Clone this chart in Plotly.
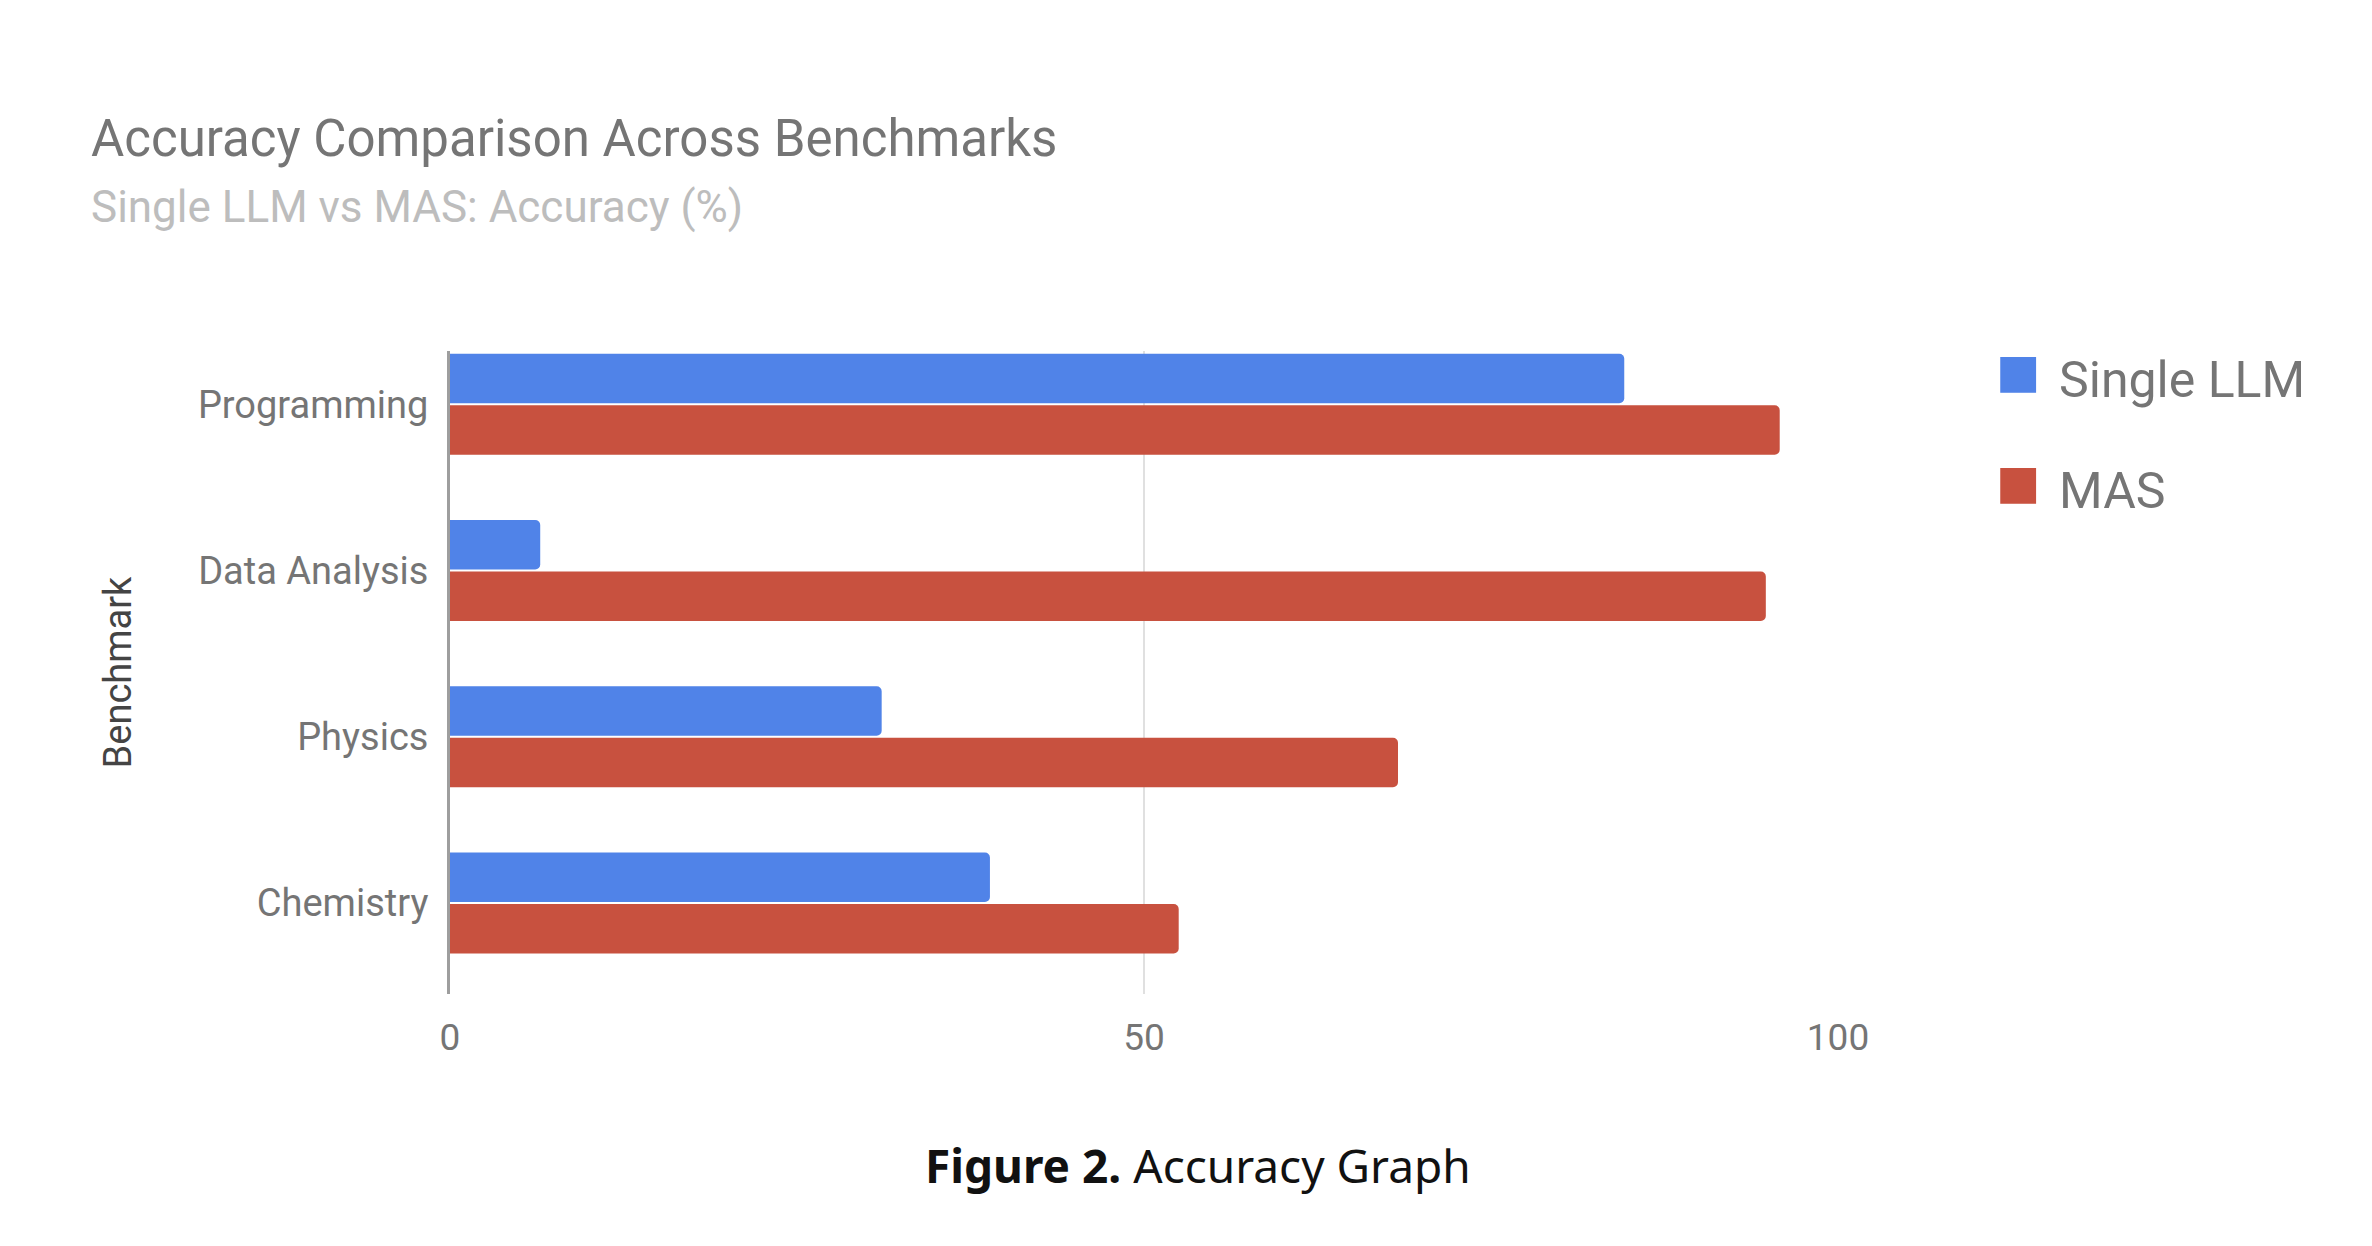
import plotly.graph_objects as go

categories = ["Programming", "Data Analysis", "Physics", "Chemistry"]
single_llm = [84.6, 6.5, 31.1, 38.9]
mas = [95.8, 94.8, 68.3, 52.5]
series_names = ["Single LLM", "MAS"]
series_colors = ["#5083e8", "#c8513f"]
x_tickvals = [0, 50, 100]
x_ticktext = ["0", "50", "100"]

W, H = 2372, 1246
O = 8  # page body offset
PL, PR, PT, PB = 450 - O, 1838 - O, 351 - O, 994 - O
fig = go.Figure()

for name, vals, col in zip(series_names, [single_llm, mas], series_colors):
    fig.add_trace(go.Bar(
        y=categories, x=vals, orientation="h", name=name,
        marker=dict(color=col, cornerradius=5, line=dict(width=0)),
        showlegend=False,
    ))

# legend entries with large square swatches
for i, (name, col) in enumerate(zip(series_names, series_colors)):
    fig.add_trace(go.Scatter(
        x=[None], y=[None], mode="lines", line=dict(width=0, color=col),
        name=f'<span style="color:{col};font-size:74px">■ </span>{name}',
        legendgroup=f"g{i}", showlegend=True,
    ))

fig.update_layout(
    width=W, height=H,
    paper_bgcolor="white", plot_bgcolor="white",
    margin=dict(l=PL, r=W - PR, t=PT, b=H - PB),
    barmode="group", bargap=0.38, bargroupgap=0.04,
    font=dict(family="Roboto", color="#757575"),
    title=dict(
        text=("Accuracy Comparison Across Benchmarks<br>"
              "<span style='font-size:44px;color:#bdbdbd'>Single LLM vs MAS: Accuracy (%)</span>"),
        font=dict(family="Roboto", size=51, color="#757575"),
        x=(91 - O) / W, xanchor="left", xref="container",
        y=1 - 148 / H, yanchor="top", yref="container",
    ),
    legend=dict(
        x=(1956 - O) / W, xref="container", xanchor="left",
        y=1 - 330 / H, yref="container", yanchor="top",
        font=dict(family="Roboto", size=50, color="#757575"),
        tracegroupgap=43, traceorder="grouped",
        itemwidth=30, bgcolor="rgba(0,0,0,0)",
    ),
    xaxis=dict(
        range=[0, 100], tickvals=x_tickvals, ticktext=x_ticktext,
        showgrid=True, gridcolor="#e0e0e0", gridwidth=2,
        zeroline=False, showline=False,
        tickfont=dict(family="Roboto", size=37, color="#757575"),
        ticks="", ticklabelstandoff=18,
    ),
    yaxis=dict(
        categoryorder="array", categoryarray=categories,
        range=[3.547, -0.32],
        showgrid=False, zeroline=False,
        showline=True, linecolor="#9e9e9e", linewidth=3,
        tickfont=dict(family="Roboto", size=38, color="#757575"),
        ticks="", ticklabelstandoff=11,
        title=dict(text="Benchmark", font=dict(family="Roboto", size=38, color="#444444"), standoff=55),
        automargin=True,
    ),
)

fig.add_annotation(
    text="<b>Figure 2.</b> Accuracy Graph",
    xref="paper", yref="paper",
    x=(1198 - O - PL) / (PR - PL), y=(PB - (1165 - O)) / (PB - PT),
    xanchor="center", yanchor="middle",
    showarrow=False,
    font=dict(family="Noto Sans", size=46, color="#111111"),
)

fig.write_html("out.html")
